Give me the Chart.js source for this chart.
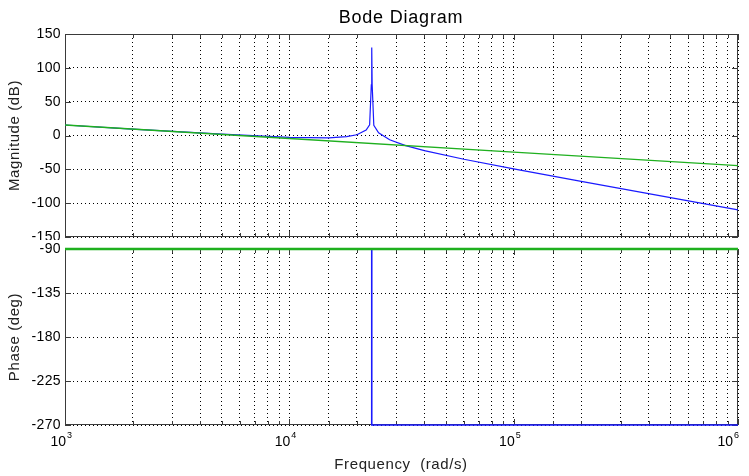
<!DOCTYPE html>
<html lang="en">
<head>
    <meta charset="UTF-8">
    <title>Bode Diagram</title>
    <style>
        body { margin: 0; background: #fff; }
        .box { position: absolute; left: 0; }
    </style>
    <script src="https://cdn.jsdelivr.net/npm/chart.js"></script>
</head>
<body>
    <div class="box" style="top:0"><canvas id="magCanvas" width="749" height="240"></canvas></div>
    <div class="box" style="top:240px"><canvas id="phaseCanvas" width="749" height="236"></canvas></div>

    <script>
        // Magnitude (dB) - system with resonance (blue) and integrator reference (green)
        const freqMag = [1000, 2000, 5000, 10000, 15000, 18000, 20000, 22000, 22800, 23200, 23300, 23400, 23800, 25000, 28000, 33000, 40000, 60000, 100000, 200000, 500000, 1000000];
        const blueMag = [15.5, 9.5, 1.9, -2.7, -3.4, -1.7, 1.1, 8.0, 15.8, 75, 130, 75, 15.2, 4.0, -6.4, -14.9, -22.3, -35.1, -49.3, -67.7, -91.7, -109.8];
        const freqGreen = [1000, 10000, 100000, 1000000];
        const greenMag = [15.5, -4.5, -24.5, -44.5];

        // Phase (deg)
        const freqPhase = [1000, 23300, 23300, 1000000];
        const bluePhase = [-90, -90, -270, -270];
        const greenPhase = [-90, -90, -90, -90];

        const decades = [3, 4, 5, 6];

        const FONT = '"Liberation Sans", Arial, sans-serif';
        const pts = (xs, ys) => xs.map((x, i) => ({ x: x, y: ys[i] }));

        // frame box + inward tick marks (under the curves)
        const frame = {
            id: 'frame',
            beforeDatasetsDraw(chart) {
                const { ctx, chartArea: a, scales } = chart;
                ctx.save();
                ctx.strokeStyle = '#3a3a3a';
                ctx.lineWidth = 1;
                ctx.beginPath();
                scales.x.ticks.forEach(t => {
                    const px = Math.round(scales.x.getPixelForValue(t.value)) + 0.5;
                    const len = Number.isInteger(Math.log10(t.value)) ? 6 : 4;
                    ctx.moveTo(px, a.bottom); ctx.lineTo(px, a.bottom - len);
                    ctx.moveTo(px, a.top); ctx.lineTo(px, a.top + len);
                });
                scales.y.ticks.forEach(t => {
                    const py = Math.round(scales.y.getPixelForValue(t.value)) + 0.5;
                    ctx.moveTo(a.left, py); ctx.lineTo(a.left + 6, py);
                    ctx.moveTo(a.right, py); ctx.lineTo(a.right - 6, py);
                });
                ctx.stroke();
                ctx.strokeRect(a.left + 0.5, a.top + 0.5, a.width - 1, a.height - 1);
                ctx.restore();
            },
            afterDraw(chart) {
                const { ctx, chartArea: a, scales } = chart;
                const o = chart.options.plugins.frame;
                ctx.save();
                ctx.fillStyle = '#000';

                // y tick labels
                ctx.font = '14px ' + FONT;
                ctx.letterSpacing = '0.4px';
                ctx.textAlign = 'right';
                ctx.textBaseline = 'middle';
                scales.y.ticks.forEach(t => {
                    ctx.fillText(String(t.value), a.left - 4, scales.y.getPixelForValue(t.value));
                });

                if (o.title) {
                    ctx.font = '18px ' + FONT;
                    ctx.letterSpacing = '0.8px';
                    ctx.textAlign = 'center';
                    ctx.fillText(o.title, 401, 18);
                }
                if (o.ylabel) {
                    ctx.save();
                    ctx.translate(15, (a.top + a.bottom) / 2);
                    ctx.rotate(-Math.PI / 2);
                    ctx.font = '15px ' + FONT;
                    ctx.letterSpacing = '0.6px';
                    ctx.textAlign = 'center';
                    ctx.fillStyle = '#222';
                    ctx.fillText(o.ylabel, 0, 0);
                    ctx.restore();
                }
                if (o.xlabels) {
                    decades.forEach(d => {
                        let px = scales.x.getPixelForValue(Math.pow(10, d));
                        if (px > 734) px = 732;
                        ctx.font = '14px ' + FONT;
                        ctx.letterSpacing = '0px';
                        ctx.textAlign = 'right';
                        ctx.fillText('10', px + 1, a.bottom + 17);
                        ctx.font = '9px ' + FONT;
                        ctx.textAlign = 'left';
                        ctx.fillText(String(d), px + 2, a.bottom + 11);
                    });
                    ctx.font = '15px ' + FONT;
                    ctx.letterSpacing = '0.6px';
                    ctx.textAlign = 'center';
                    ctx.fillStyle = '#222';
                    ctx.fillText('Frequency  (rad/s)', 401, a.bottom + 40);
                }
                ctx.restore();
            }
        };

        function xScale(bottomHeight) {
            return {
                type: 'logarithmic',
                min: 1000,
                max: 1000000,
                ticks: { display: false, autoSkip: false },
                grid: { color: '#000', lineWidth: 1, drawTicks: false },
                border: { display: false, dash: [1, 3] },
                afterFit: s => { s.height = bottomHeight; }
            };
        }

        function yScale(min, max, step) {
            return {
                min: min,
                max: max,
                ticks: { stepSize: step, display: false },
                grid: { color: '#000', lineWidth: 1, drawTicks: false },
                border: { display: false, dash: [1, 3] },
                afterFit: s => { s.width = 65; }
            };
        }

        new Chart(document.getElementById('magCanvas'), {
            type: 'scatter',
            data: {
                datasets: [
                    { label: 'green', data: pts(freqGreen, greenMag), showLine: true, borderColor: '#1fb01f', borderWidth: 1.4, pointRadius: 0, clip: 4 },
                    { label: 'blue', data: pts(freqMag, blueMag), showLine: true, borderColor: '#1a1aff', borderWidth: 1.2, pointRadius: 0, clip: 4 }
                ]
            },
            options: {
                responsive: false,
                animation: false,
                layout: { padding: { top: 34, right: 11, left: 0, bottom: 0 } },
                plugins: {
                    legend: { display: false },
                    tooltip: { enabled: false },
                    frame: { title: 'Bode Diagram', ylabel: 'Magnitude (dB)' }
                },
                scales: { x: xScale(3), y: yScale(-150, 150, 50) }
            },
            plugins: [frame]
        });

        new Chart(document.getElementById('phaseCanvas'), {
            type: 'scatter',
            data: {
                datasets: [
                    { label: 'green', data: pts([1000, 10000, 100000, 1000000], greenPhase), showLine: true, borderColor: '#1fb01f', borderWidth: 2.5, pointRadius: 0, clip: 4 },
                    { label: 'blue', data: pts(freqPhase, bluePhase), showLine: true, borderColor: '#1a1aff', borderWidth: 1.6, pointRadius: 0, clip: 4 }
                ]
            },
            options: {
                responsive: false,
                animation: false,
                layout: { padding: { top: 9, right: 11, left: 0, bottom: 0 } },
                plugins: {
                    legend: { display: false },
                    tooltip: { enabled: false },
                    frame: { ylabel: 'Phase (deg)', xlabels: true }
                },
                scales: { x: xScale(51), y: yScale(-270, -90, 45) }
            },
            plugins: [frame]
        });
    </script>
</body>
</html>
